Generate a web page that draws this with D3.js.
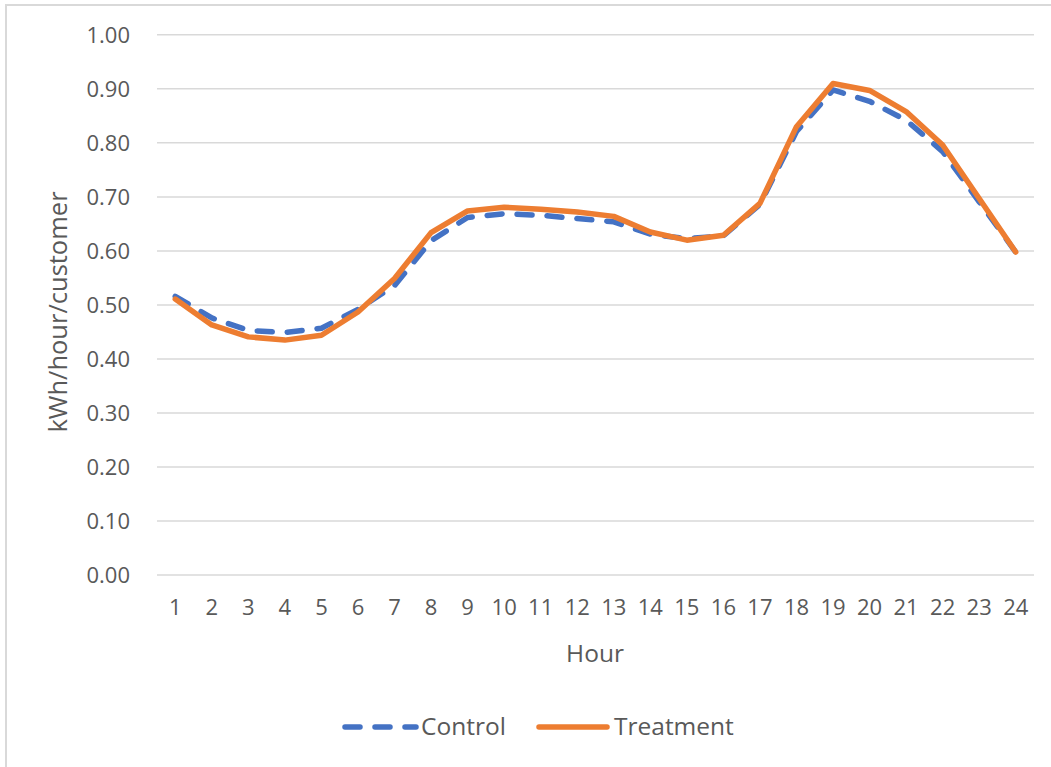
<!DOCTYPE html>
<html>
<head>
<meta charset="utf-8">
<script src="https://cdn.jsdelivr.net/npm/d3@7"></script>
<style>
  html, body { margin: 0; padding: 0; background: #fff; }
  svg { display: block; }
  text { font-family: "Open Sans", "Lato", sans-serif; fill: #595959; }
</style>
</head>
<body>
<svg id="chart" width="1051" height="767"></svg>
<script>
// Average hourly load profile, kWh/hour/customer
const hours = d3.range(1, 25);
const control = [0.515, 0.475, 0.452, 0.448, 0.456, 0.491, 0.535, 0.618, 0.661, 0.668,
                 0.665, 0.659, 0.653, 0.630, 0.622, 0.627, 0.685, 0.820, 0.897, 0.876,
                 0.841, 0.783, 0.690, 0.597];
const treatment = [0.510, 0.462, 0.440, 0.434, 0.443, 0.486, 0.548, 0.633, 0.673, 0.680,
                   0.676, 0.671, 0.663, 0.634, 0.619, 0.628, 0.687, 0.829, 0.909, 0.896,
                   0.857, 0.795, 0.696, 0.597];
const yTicks = [0, 0.1, 0.2, 0.3, 0.4, 0.5, 0.6, 0.7, 0.8, 0.9, 1.0];

const series = [
  { name: "Control", values: control, color: "#4472C4", dash: "15,15" },
  { name: "Treatment", values: treatment, color: "#ED7D31", dash: null }
];

const svg = d3.select("#chart");
const tickFs = "22px";
const labelFs = "24.5px";

// outer chart frame
svg.append("rect")
  .attr("x", 6).attr("y", 5)
  .attr("width", 1060).attr("height", 780)
  .attr("fill", "#fff")
  .attr("stroke", "#d9d9d9").attr("stroke-width", 2);

const plot = { left: 157, right: 1034, top: 34.3, bottom: 574.6 };

const x = d3.scaleBand().domain(hours).range([plot.left, plot.right]);
const cx = h => x(h) + x.bandwidth() / 2;
const y = d3.scaleLinear().domain([0, 1]).range([plot.bottom, plot.top]);

// horizontal gridlines and value labels
const yAxis = d3.axisLeft(y)
  .tickValues(yTicks)
  .tickSize(-(plot.right - plot.left))
  .tickPadding(27)
  .tickFormat(d3.format(".2f"));

const gy = svg.append("g")
  .attr("transform", `translate(${plot.left},0)`)
  .call(yAxis);
gy.select(".domain").remove();
gy.selectAll(".tick line").attr("stroke", "#d9d9d9").attr("stroke-width", 1.5);
gy.selectAll(".tick text")
  .style("font-size", tickFs)
  .attr("fill", "#595959")
  .attr("dy", "0.36em");

// category axis labels
const xAxis = d3.axisBottom(x).tickSize(0).tickPadding(25);
const gx = svg.append("g")
  .attr("transform", `translate(0,${plot.bottom})`)
  .call(xAxis);
gx.select(".domain").remove();
gx.selectAll(".tick text")
  .style("font-size", tickFs)
  .attr("fill", "#595959");

// axis titles
svg.append("text")
  .attr("x", 595)
  .attr("y", 662)
  .attr("text-anchor", "middle")
  .style("font-size", labelFs)
  .text("Hour");

svg.append("text")
  .attr("transform", `translate(67,312) rotate(-90)`)
  .attr("text-anchor", "middle")
  .style("font-size", "25.5px")
  .text("kWh/hour/customer");

// series lines
const line = d3.line()
  .x((d, i) => cx(hours[i]))
  .y(d => y(d));

series.forEach(s => {
  svg.append("path")
    .datum(s.values)
    .attr("d", line)
    .attr("fill", "none")
    .attr("stroke", s.color)
    .attr("stroke-width", 5.5)
    .attr("stroke-linejoin", "round")
    .attr("stroke-linecap", "round")
    .attr("stroke-dasharray", s.dash);
});

// legend
const legend = [
  { s: series[0], x1: 345, x2: 416, tx: 421 },
  { s: series[1], x1: 539, x2: 607, tx: 614 }
];
legend.forEach(l => {
  svg.append("line")
    .attr("x1", l.x1).attr("x2", l.x2)
    .attr("y1", 727).attr("y2", 727)
    .attr("stroke", l.s.color)
    .attr("stroke-width", 5.5)
    .attr("stroke-linecap", "round")
    .attr("stroke-dasharray", l.s.dash);
  svg.append("text")
    .attr("x", l.tx).attr("y", 735)
    .style("font-size", labelFs)
    .text(l.s.name);
});
</script>
</body>
</html>
